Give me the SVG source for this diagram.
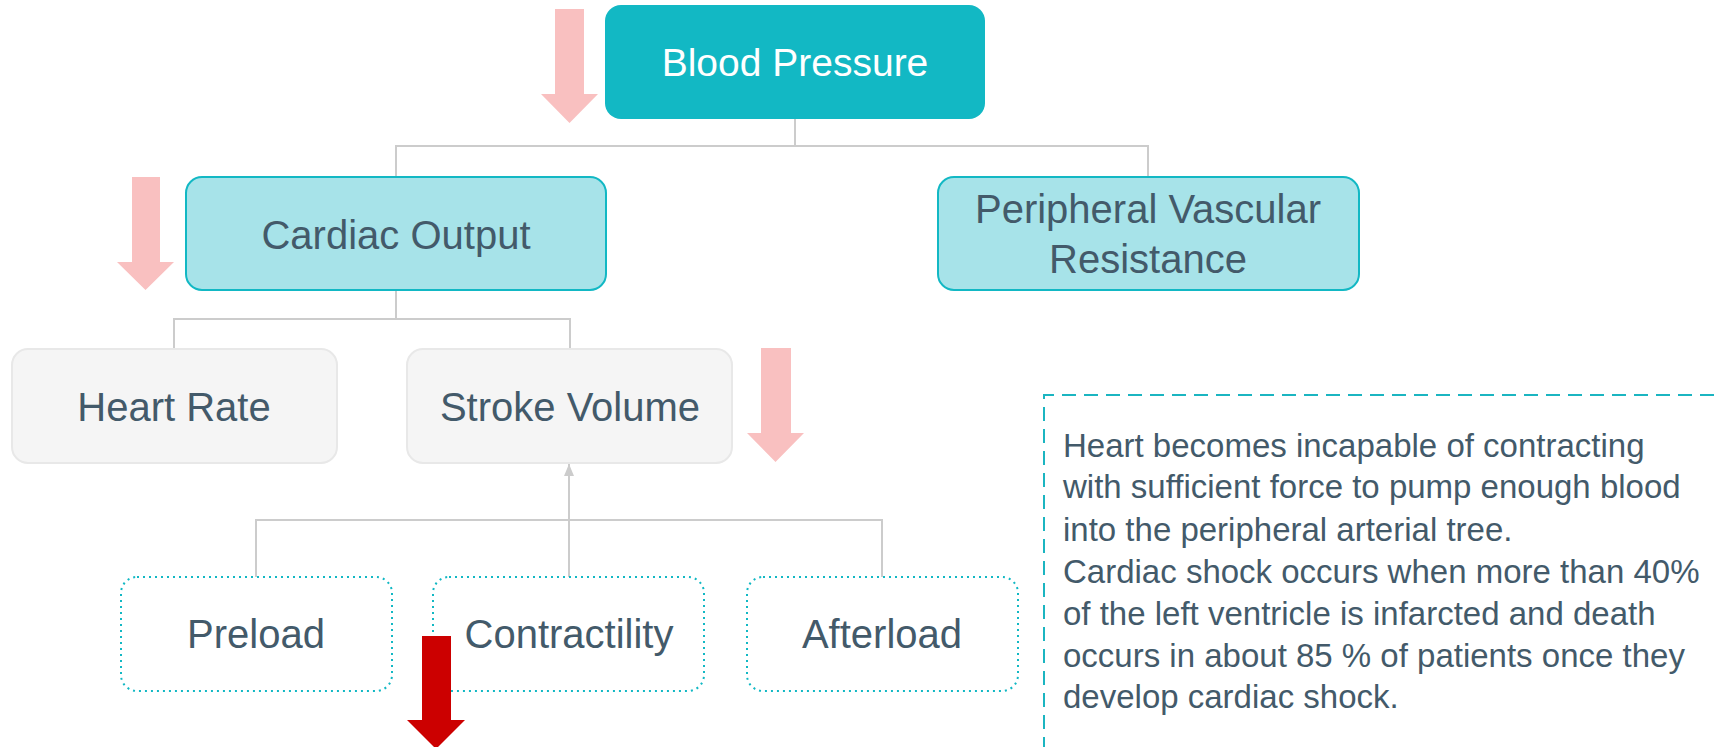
<svg xmlns="http://www.w3.org/2000/svg" width="1714" height="747" viewBox="0 0 1714 747">
  <style>
    .label { font-family: "Liberation Sans", Arial, sans-serif; font-size: 40px; fill: #435a6a; text-anchor: middle; }
    .root-label { fill: #ffffff; font-size: 39px; }
    .note { font-family: "Liberation Sans", Arial, sans-serif; font-size: 33px; fill: #435a6a; }
    .root { fill: #12b8c4; }
    .primary { fill: #a7e3e9; stroke: #12b8c4; stroke-width: 2; }
    .secondary { fill: #f5f5f5; stroke: #e8e8e8; stroke-width: 2; }
    .factor { fill: #ffffff; stroke: #12b8c4; stroke-width: 2; stroke-dasharray: 2 4; }
    .wire { fill: none; stroke: #cccccc; stroke-width: 2; }
    .down-soft { fill: #f9c0c0; }
    .down-strong { fill: #cc0000; }
  </style>
  <defs>
    <marker id="tip" viewBox="0 0 12 10" refX="12" refY="5" markerWidth="12" markerHeight="10" markerUnits="userSpaceOnUse" orient="auto">
      <path d="M0,0 L12,5 L0,10 Z" fill="#cccccc"/>
    </marker>
  </defs>

  <rect width="1714" height="747" fill="#ffffff"/>

  <!-- connectors -->
  <g id="connectors">
    <path class="wire" d="M795,119 V146 M396,177 V146 H1148 V177"/>
    <path class="wire" d="M396,290 V319 M174,349 V319 H570 V349"/>
    <path class="wire" d="M256,577 V520 H882 V577 M569,577 V520"/>
    <line class="wire" x1="569" y1="520" x2="569" y2="464" marker-end="url(#tip)"/>
  </g>

  <!-- nodes -->
  <g id="blood-pressure">
    <rect class="root" x="605" y="5" width="380" height="114" rx="16"/>
    <text class="label root-label" x="795" y="76">Blood Pressure</text>
  </g>

  <g id="cardiac-output">
    <rect class="primary" x="186" y="177" width="420" height="113" rx="16"/>
    <text class="label" x="396" y="249">Cardiac Output</text>
  </g>

  <g id="peripheral-vascular-resistance">
    <rect class="primary" x="938" y="177" width="421" height="113" rx="16"/>
    <text class="label" x="1148" y="223">Peripheral Vascular</text>
    <text class="label" x="1148" y="273">Resistance</text>
  </g>

  <g id="heart-rate">
    <rect class="secondary" x="12" y="349" width="325" height="114" rx="16"/>
    <text class="label" x="174" y="421">Heart Rate</text>
  </g>

  <g id="stroke-volume">
    <rect class="secondary" x="407" y="349" width="325" height="114" rx="16"/>
    <text class="label" x="570" y="421">Stroke Volume</text>
  </g>

  <g id="preload">
    <rect class="factor" x="121" y="577" width="271" height="114" rx="16"/>
    <text class="label" x="256" y="648">Preload</text>
  </g>

  <g id="contractility">
    <rect class="factor" x="433" y="577" width="271" height="114" rx="16"/>
    <text class="label" x="569" y="648">Contractility</text>
  </g>

  <g id="afterload">
    <rect class="factor" x="747" y="577" width="271" height="114" rx="16"/>
    <text class="label" x="882" y="648">Afterload</text>
  </g>

  <!-- decrease indicators -->
  <g id="indicators">
    <path class="down-soft" d="M555,9 H584 V94 H598 L569.5,123 L541,94 H555 Z"/>
    <path class="down-soft" d="M132,177 H160 V262 H174 L145.5,290 L117,262 H132 Z"/>
    <path class="down-soft" d="M761,348 H791 V433 H804 L775.5,462 L747,433 H761 Z"/>
    <path class="down-strong" d="M422,636 H451 V720 H465 L436,749 L407,720 H422 Z"/>
  </g>

  <!-- explanatory note -->
  <g id="note">
    <path d="M1714,395 H1044 V747" fill="none" stroke="#1bb5c1" stroke-width="2" stroke-dasharray="14 8"/>
    <text class="note">
      <tspan x="1063" y="457">Heart becomes incapable of contracting</tspan>
      <tspan x="1063" y="498">with sufficient force to pump enough blood</tspan>
      <tspan x="1063" y="541">into the peripheral arterial tree.</tspan>
      <tspan x="1063" y="583">Cardiac shock occurs when more than 40%</tspan>
      <tspan x="1063" y="625">of the left ventricle is infarcted and death</tspan>
      <tspan x="1063" y="667">occurs in about 85 % of patients once they</tspan>
      <tspan x="1063" y="708">develop cardiac shock.</tspan>
    </text>
  </g>
</svg>
